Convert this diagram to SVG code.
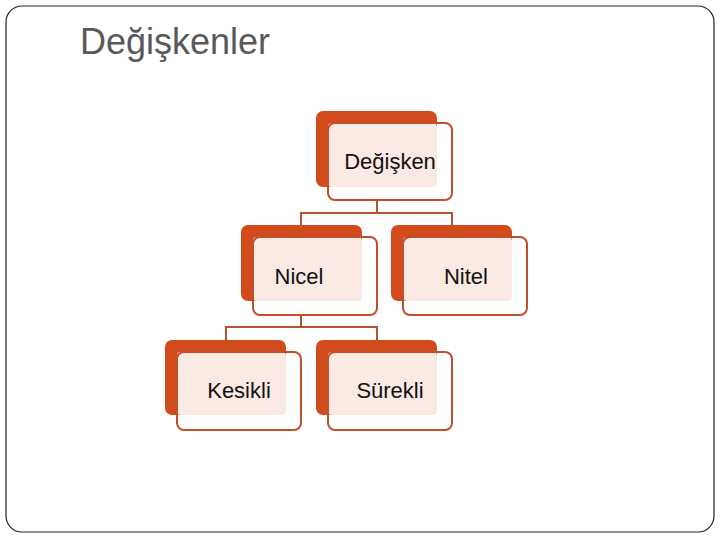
<svg xmlns="http://www.w3.org/2000/svg" width="720" height="540" viewBox="0 0 720 540">
<style>
.back{fill:#d24b1c}
.pink{fill:#fbe9e4}
.front{fill:none;stroke:#c0502a;stroke-width:2}
.lbl{font-family:"Liberation Sans",Arial,sans-serif;font-size:22px;fill:#111;text-anchor:middle}
.con{fill:none;stroke:#b5532e;stroke-width:2}
</style>
<rect x="0" y="0" width="720" height="540" fill="#fff"/>
<rect x="6" y="6" width="708" height="526" rx="16" fill="none" stroke="#222" stroke-width="1.2"/>
<text x="80" y="54" font-family="'Liberation Sans',Arial,sans-serif" font-size="36" fill="#595959">Değişkenler</text>
<g id="connectors">
<path class="con" d="M377 201V213M301 237V213H452V237"/>
<path class="con" d="M301 315V327M226 352V327H377V352"/>
</g>
<g id="n-degisken">
<rect class="back" x="316" y="111" width="121" height="76" rx="7"/>
<rect class="pink" x="328" y="123" width="109" height="64" rx="4"/>
<rect class="front" x="328" y="123" width="124" height="77" rx="7"/>
<text class="lbl" x="390" y="169">Değişken</text>
</g>
<g id="n-nicel">
<rect class="back" x="241" y="225" width="121" height="76" rx="7"/>
<rect class="pink" x="253" y="237" width="109" height="64" rx="4"/>
<rect class="front" x="253" y="237" width="124" height="78" rx="7"/>
<text class="lbl" x="299" y="284">Nicel</text>
</g>
<g id="n-nitel">
<rect class="back" x="391" y="225" width="121" height="76" rx="7"/>
<rect class="pink" x="403" y="237" width="109" height="64" rx="4"/>
<rect class="front" x="403" y="237" width="124" height="78" rx="7"/>
<text class="lbl" x="466" y="284">Nitel</text>
</g>
<g id="n-kesikli">
<rect class="back" x="165" y="340" width="121" height="75" rx="7"/>
<rect class="pink" x="177" y="352" width="109" height="63" rx="4"/>
<rect class="front" x="177" y="352" width="124" height="78" rx="7"/>
<text class="lbl" x="239" y="398">Kesikli</text>
</g>
<g id="n-surekli">
<rect class="back" x="316" y="340" width="121" height="75" rx="7"/>
<rect class="pink" x="328" y="352" width="109" height="63" rx="4"/>
<rect class="front" x="328" y="352" width="124" height="78" rx="7"/>
<text class="lbl" x="390" y="398">Sürekli</text>
</g>
</svg>
